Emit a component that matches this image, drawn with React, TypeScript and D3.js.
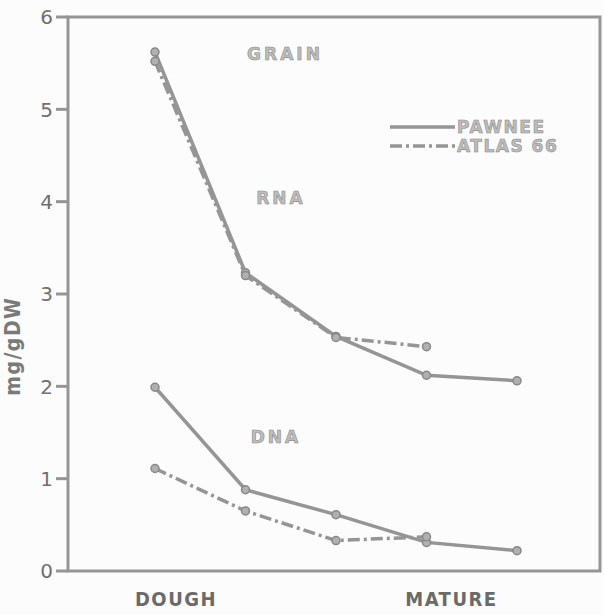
import React from 'react';
import * as d3 from 'd3';

// growth stages, left to right (only first and fourth are labelled)
const stages = ['s1', 's2', 's3', 's4', 's5'];
const stageLabels = [
  { stage: 's1', text: 'DOUGH' },
  { stage: 's4', text: 'MATURE' },
];
const yTicks = [0, 1, 2, 3, 4, 5, 6];

// mg/g DW
const pawneeRNA = [5.62, 3.23, 2.54, 2.12, 2.06];
const atlasRNA = [5.52, 3.2, 2.53, 2.43];
const pawneeDNA = [1.99, 0.88, 0.61, 0.31, 0.22];
const atlasDNA = [1.11, 0.65, 0.33, 0.37];

const W = 604;
const H = 615;
const left = 68;
const right = 600;
const top = 17;
const bottom = 571;

const ink = '#959595';
const textInk = '#7a7a7a';
const font = '"Liberation Sans Narrow", "DejaVu Sans Condensed", sans-serif';

export default function App() {
  const x = d3.scalePoint<string>().domain(stages).range([155, 517]);
  const y = d3.scaleLinear().domain([0, 6]).range([bottom, top]);

  const line = d3
    .line<number>()
    .x((_, i) => x(stages[i]) as number)
    .y((d) => y(d));

  const solid = { stroke: ink, strokeWidth: 3.5, fill: 'none' };
  const dashed = { ...solid, strokeDasharray: '12 4 3 4' };

  const series = [
    { data: pawneeRNA, style: solid },
    { data: atlasRNA, style: dashed },
    { data: pawneeDNA, style: solid },
    { data: atlasDNA, style: dashed },
  ];

  return (
    <svg
      width={W}
      height={H}
      style={{ position: 'absolute', left: 0, top: 0, background: '#fcfcfc' }}
    >
      {/* frame */}
      <rect
        x={left}
        y={top}
        width={right - left}
        height={bottom - top}
        fill="none"
        stroke={ink}
        strokeWidth={3}
      />

      {/* y ticks */}
      {yTicks.map((t) => (
        <g key={t}>
          <line x1={left - 12} x2={left} y1={y(t)} y2={y(t)} stroke={ink} strokeWidth={3} />
          <text
            x={left - 15}
            y={y(t)}
            dy="0.36em"
            textAnchor="end"
            fontFamily="DejaVu Sans, sans-serif"
            fontSize={20}
            fill="#6f6f6f"
          >
            {t}
          </text>
        </g>
      ))}
      <text
        transform={`translate(20, ${(y(2) + y(3)) / 2 + 6}) rotate(-90)`}
        textAnchor="middle"
        fontFamily={font}
        fontWeight="bold"
        fontSize={21}
        letterSpacing={1.5}
        fill={textInk}
      >
        mg/gDW
      </text>

      {/* x labels */}
      {stageLabels.map((s, i) => (
        <text
          key={s.text}
          x={(x(s.stage) as number) + (i === 0 ? 21 : 25)}
          y={bottom + 35}
          textAnchor="middle"
          fontFamily={font}
          fontWeight="bold"
          fontSize={20}
          letterSpacing={1.5}
          fill="#6a6a6a"
        >
          {s.text}
        </text>
      ))}

      {/* series */}
      {series.map((s, k) => (
        <g key={k}>
          <path d={line(s.data) || ''} {...s.style} />
          {s.data.map((d, i) => (
            <circle
              key={i}
              cx={x(stages[i]) as number}
              cy={y(d)}
              r={4}
              fill="#b0b0b0"
              stroke="#888"
              strokeWidth={1.5}
            />
          ))}
        </g>
      ))}

      {/* panel labels */}
      {[
        { t: 'GRAIN', cx: 285, v: 5.6 },
        { t: 'RNA', cx: 281, v: 4.04 },
        { t: 'DNA', cx: 276, v: 1.45 },
      ].map((l) => (
        <text
          key={l.t}
          x={l.cx}
          y={y(l.v)}
          dy="0.36em"
          textAnchor="middle"
          fontFamily="DejaVu Sans, sans-serif"
          fontWeight="bold"
          fontSize={17}
          letterSpacing={3}
          fill="#bdbdbd"
          stroke="#8a8a8a"
          strokeWidth={0.6}
        >
          {l.t}
        </text>
      ))}

      {/* legend */}
      <g fontFamily="DejaVu Sans, sans-serif" fontWeight="bold" fontSize={17} letterSpacing={1.5} fill="#bdbdbd" stroke="#8a8a8a" strokeWidth={0.6}>
        <line x1={390} x2={455} y1={127} y2={127} {...solid} />
        <text x={457} y={127} dy="0.36em">PAWNEE</text>
        <line x1={390} x2={455} y1={146} y2={146} {...dashed} />
        <text x={457} y={146} dy="0.36em">ATLAS 66</text>
      </g>
    </svg>
  );
}
